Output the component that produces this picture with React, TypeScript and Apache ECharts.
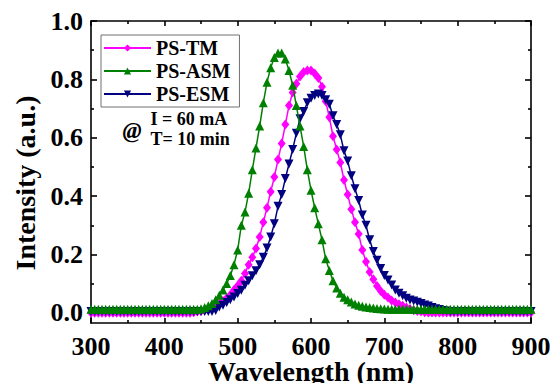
import React, { useEffect, useRef } from "react";
import * as echarts from "echarts";

const wavelengths = [
  300, 305, 310, 315, 320, 325, 330, 335, 340, 345, 350, 355, 360, 365, 370, 375, 380, 385, 390, 395,
  400, 405, 410, 415, 420, 425, 430, 435, 440, 445, 450, 455, 460, 465, 470, 475, 480, 485, 490, 495,
  500, 505, 510, 515, 520, 525, 530, 535, 540, 545, 550, 555, 560, 565, 570, 575, 580, 585, 590, 595,
  600, 605, 610, 615, 620, 625, 630, 635, 640, 645, 650, 655, 660, 665, 670, 675, 680, 685, 690, 695,
  700, 705, 710, 715, 720, 725, 730, 735, 740, 745, 750, 755, 760, 765, 770, 775, 780, 785, 790, 795,
  800, 805, 810, 815, 820, 825, 830, 835, 840, 845, 850, 855, 860, 865, 870, 875, 880, 885, 890, 895,
  900,
];

// PS-TM (magenta diamonds)
const psTM = [
  0, 0, 0, 0, 0, 0, 0, 0, 0, 0, 0, 0, 0, 0, 0, 0, 0, 0, 0, 0,
  0, 0, 0, 0, 0, 0, 0, 0, 0.002, 0.004, 0.006, 0.009, 0.013, 0.018, 0.024, 0.031, 0.04, 0.05, 0.062, 0.078,
  0.093, 0.11, 0.135, 0.165, 0.19, 0.22, 0.26, 0.31, 0.36, 0.415, 0.465, 0.525, 0.58, 0.645, 0.71, 0.755, 0.785, 0.81, 0.825, 0.83,
  0.83, 0.82, 0.805, 0.775, 0.725, 0.67, 0.605, 0.56, 0.515, 0.455, 0.405, 0.355, 0.31, 0.27, 0.215, 0.175, 0.14, 0.115, 0.092, 0.075,
  0.062, 0.052, 0.042, 0.035, 0.029, 0.024, 0.018, 0.013, 0.009, 0.006, 0.004, 0.002, 0.001, 0.001, 0.001, 0.001, 0.001, 0.001, 0.001, 0.001,
  0.001, 0.001, 0.001, 0.001, 0.001, 0.001, 0.001, 0.001, 0.001, 0.001, 0.001, 0.001, 0.001, 0.001, 0.001, 0.001, 0.001, 0.001, 0.001, 0.001,
  0.001,
];

// PS-ASM (green triangles)
const psASM = [
  0.012, 0.012, 0.012, 0.012, 0.012, 0.012, 0.012, 0.012, 0.012, 0.012, 0.012, 0.012, 0.012, 0.012, 0.012, 0.012, 0.012, 0.012, 0.012, 0.012,
  0.012, 0.012, 0.012, 0.012, 0.012, 0.012, 0.012, 0.012, 0.012, 0.012, 0.014, 0.018, 0.024, 0.032, 0.045, 0.06, 0.078, 0.1, 0.128, 0.165,
  0.215, 0.3, 0.345, 0.41, 0.49, 0.565, 0.64, 0.72, 0.79, 0.84, 0.875, 0.89, 0.89, 0.87, 0.83, 0.78, 0.71, 0.64, 0.57, 0.49,
  0.42, 0.36, 0.305, 0.25, 0.185, 0.145, 0.11, 0.085, 0.067, 0.053, 0.045, 0.037, 0.03, 0.026, 0.022, 0.02, 0.018, 0.016, 0.015, 0.014,
  0.013, 0.012, 0.012, 0.012, 0.012, 0.012, 0.012, 0.012, 0.012, 0.012, 0.012, 0.012, 0.012, 0.012, 0.012, 0.012, 0.012, 0.012, 0.012, 0.012,
  0.012, 0.012, 0.012, 0.012, 0.012, 0.012, 0.012, 0.012, 0.012, 0.012, 0.012, 0.012, 0.012, 0.012, 0.012, 0.012, 0.012, 0.012, 0.012, 0.012,
  0.012,
];

// PS-ESM (navy inverted triangles)
const psESM = [
  0.004, 0.004, 0.004, 0.004, 0.004, 0.004, 0.004, 0.004, 0.004, 0.004, 0.004, 0.004, 0.004, 0.004, 0.004, 0.004, 0.004, 0.004, 0.004, 0.004,
  0.004, 0.004, 0.004, 0.004, 0.004, 0.004, 0.004, 0.004, 0.004, 0.004, 0.004, 0.004, 0.004, 0.004, 0.008, 0.02, 0.026, 0.035, 0.045, 0.054,
  0.066, 0.077, 0.094, 0.11, 0.127, 0.144, 0.165, 0.19, 0.222, 0.26, 0.305, 0.365, 0.405, 0.46, 0.51, 0.56, 0.615, 0.665, 0.69, 0.72,
  0.735, 0.745, 0.75, 0.745, 0.73, 0.715, 0.675, 0.645, 0.61, 0.555, 0.52, 0.47, 0.425, 0.385, 0.335, 0.3, 0.25, 0.21, 0.18, 0.152,
  0.128, 0.112, 0.095, 0.078, 0.067, 0.058, 0.05, 0.044, 0.04, 0.036, 0.032, 0.027, 0.023, 0.018, 0.014, 0.011, 0.008, 0.006, 0.004, 0.004,
  0.004, 0.004, 0.004, 0.004, 0.004, 0.004, 0.004, 0.004, 0.004, 0.004, 0.004, 0.004, 0.004, 0.004, 0.004, 0.004, 0.004, 0.004, 0.004, 0.004,
  0.004,
];

const seriesNames = ["PS-TM", "PS-ASM", "PS-ESM"];
const yMajorTicks = [0, 0.2, 0.4, 0.6, 0.8, 1.0];
const yMinorTicks = [0.1, 0.3, 0.5, 0.7, 0.9];
const annotations = ["@", "I = 60 mA", "T= 10 min"];
const xTitle = "Wavelength (nm)";
const yTitle = "Intensity (a.u.)";

const FONT = "'Liberation Serif', 'Times New Roman', serif";

export default function App() {
  const ref = useRef<HTMLDivElement>(null);

  useEffect(() => {
    if (!ref.current) return;
    const chart = echarts.init(ref.current, undefined, { renderer: "svg" });
    const black = "#000";
    const lineW = 1.6;
    const yMin = -0.035;
    const yMax = 1.0;

    const xAxisBase = {
      type: "value",
      min: 300,
      max: 900,
      interval: 100,
      axisLine: { show: true, onZero: false, lineStyle: { color: black, width: lineW } },
      axisTick: { show: true, inside: true, length: 5, lineStyle: { color: black, width: lineW } },
      minorTick: { show: true, splitNumber: 2, length: 3, lineStyle: { color: black, width: lineW } },
      splitLine: { show: false },
      minorSplitLine: { show: false },
    };

    const yAxisBase = {
      type: "value",
      min: yMin,
      max: yMax,
      splitLine: { show: false },
    };

    const mk = (arr: number[]) => wavelengths.map((w, i) => [w, arr[i]]);

    const option: any = {
      animation: false,
      grid: { left: 91, right: 26, top: 21, bottom: 60, containLabel: false, outerBoundsMode: "none" },
      legend: {
        data: seriesNames,
        orient: "vertical",
        left: 101,
        top: 35,
        itemWidth: 47,
        itemHeight: 9,
        itemGap: 3,
        borderColor: "#707070",
        borderWidth: 1,
        padding: [3, 9, 3, 2],
        backgroundColor: "#fff",
        textStyle: { fontFamily: FONT, fontWeight: "bold", fontSize: 20, color: black },
      },
      xAxis: [
        {
          ...xAxisBase,
          position: "bottom",
          axisLabel: { show: true, fontFamily: FONT, fontWeight: "bold", fontSize: 26, color: black, margin: 10 },
        },
        {
          ...xAxisBase,
          position: "top",
          axisLabel: { show: false },
        },
      ],
      yAxis: [
        {
          ...yAxisBase,
          position: "left",
          axisLine: { show: true, onZero: false, lineStyle: { color: black, width: lineW } },
          axisTick: { show: true, inside: true, length: 6, customValues: yMajorTicks, lineStyle: { color: black, width: lineW } },
          axisLabel: {
            show: true,
            customValues: yMajorTicks,
            formatter: (v: number) => v.toFixed(1),
            fontFamily: FONT,
            fontWeight: "bold",
            fontSize: 26,
            color: black,
            margin: 8,
          },
        },
        {
          ...yAxisBase,
          position: "left",
          axisLine: { show: false, onZero: false },
          axisTick: { show: true, inside: true, length: 3, customValues: yMinorTicks, lineStyle: { color: black, width: lineW } },
          axisLabel: { show: false },
        },
        {
          ...yAxisBase,
          position: "right",
          axisLine: { show: true, onZero: false, lineStyle: { color: black, width: lineW } },
          axisTick: { show: true, inside: true, length: 6, customValues: yMajorTicks, lineStyle: { color: black, width: lineW } },
          axisLabel: { show: false },
        },
        {
          ...yAxisBase,
          position: "right",
          axisLine: { show: false, onZero: false },
          axisTick: { show: true, inside: true, length: 3, customValues: yMinorTicks, lineStyle: { color: black, width: lineW } },
          axisLabel: { show: false },
        },
      ],
      series: [
        {
          name: seriesNames[0],
          type: "line",
          data: mk(psTM),
          symbol: "diamond",
          symbolSize: [8, 10],
          showSymbol: true,
          showAllSymbol: true,
          lineStyle: { color: "#ff00ff", width: 1.5 },
          itemStyle: { color: "#ff00ff" },
          z: 2,
        },
        {
          name: seriesNames[2],
          type: "line",
          data: mk(psESM),
          symbol: "triangle",
          symbolRotate: 180,
          symbolSize: 9,
          showSymbol: true,
          showAllSymbol: true,
          lineStyle: { color: "#000080", width: 1.5 },
          itemStyle: { color: "#000080" },
          z: 3,
        },
        {
          name: seriesNames[1],
          type: "line",
          data: mk(psASM),
          symbol: "triangle",
          symbolSize: 9,
          showSymbol: true,
          showAllSymbol: true,
          lineStyle: { color: "#008000", width: 1.5 },
          itemStyle: { color: "#008000" },
          z: 4,
        },
      ],
      graphic: [
        {
          type: "text",
          x: 132,
          y: 130,
          style: {
            text: annotations[0],
            fontFamily: FONT,
            fontWeight: "bold",
            fontStyle: "italic",
            fontSize: 23,
            fill: black,
            align: "center",
            verticalAlign: "middle",
          },
        },
        {
          type: "text",
          x: 150.5,
          y: 118.5,
          style: {
            text: annotations[1],
            fontFamily: FONT,
            fontWeight: "bold",
            fontSize: 18,
            fill: black,
            align: "left",
            verticalAlign: "middle",
          },
        },
        {
          type: "text",
          x: 150.5,
          y: 138.5,
          style: {
            text: annotations[2],
            fontFamily: FONT,
            fontWeight: "bold",
            fontSize: 18,
            fill: black,
            align: "left",
            verticalAlign: "middle",
          },
        },
        {
          type: "text",
          x: 311,
          y: 371,
          style: {
            text: xTitle,
            fontFamily: FONT,
            fontWeight: "bold",
            fontSize: 28,
            fill: black,
            align: "center",
            verticalAlign: "middle",
          },
        },
        {
          type: "text",
          x: 25,
          y: 183,
          rotation: Math.PI / 2,
          style: {
            text: yTitle,
            fontFamily: FONT,
            fontWeight: "bold",
            fontSize: 28,
            fill: black,
            align: "center",
            verticalAlign: "middle",
          },
        },
      ],
    };

    chart.setOption(option);
    return () => chart.dispose();
  }, []);

  return (
    <div
      ref={ref}
      style={{ position: "fixed", left: 0, top: 0, width: 557, height: 383, background: "#fff" }}
    />
  );
}
